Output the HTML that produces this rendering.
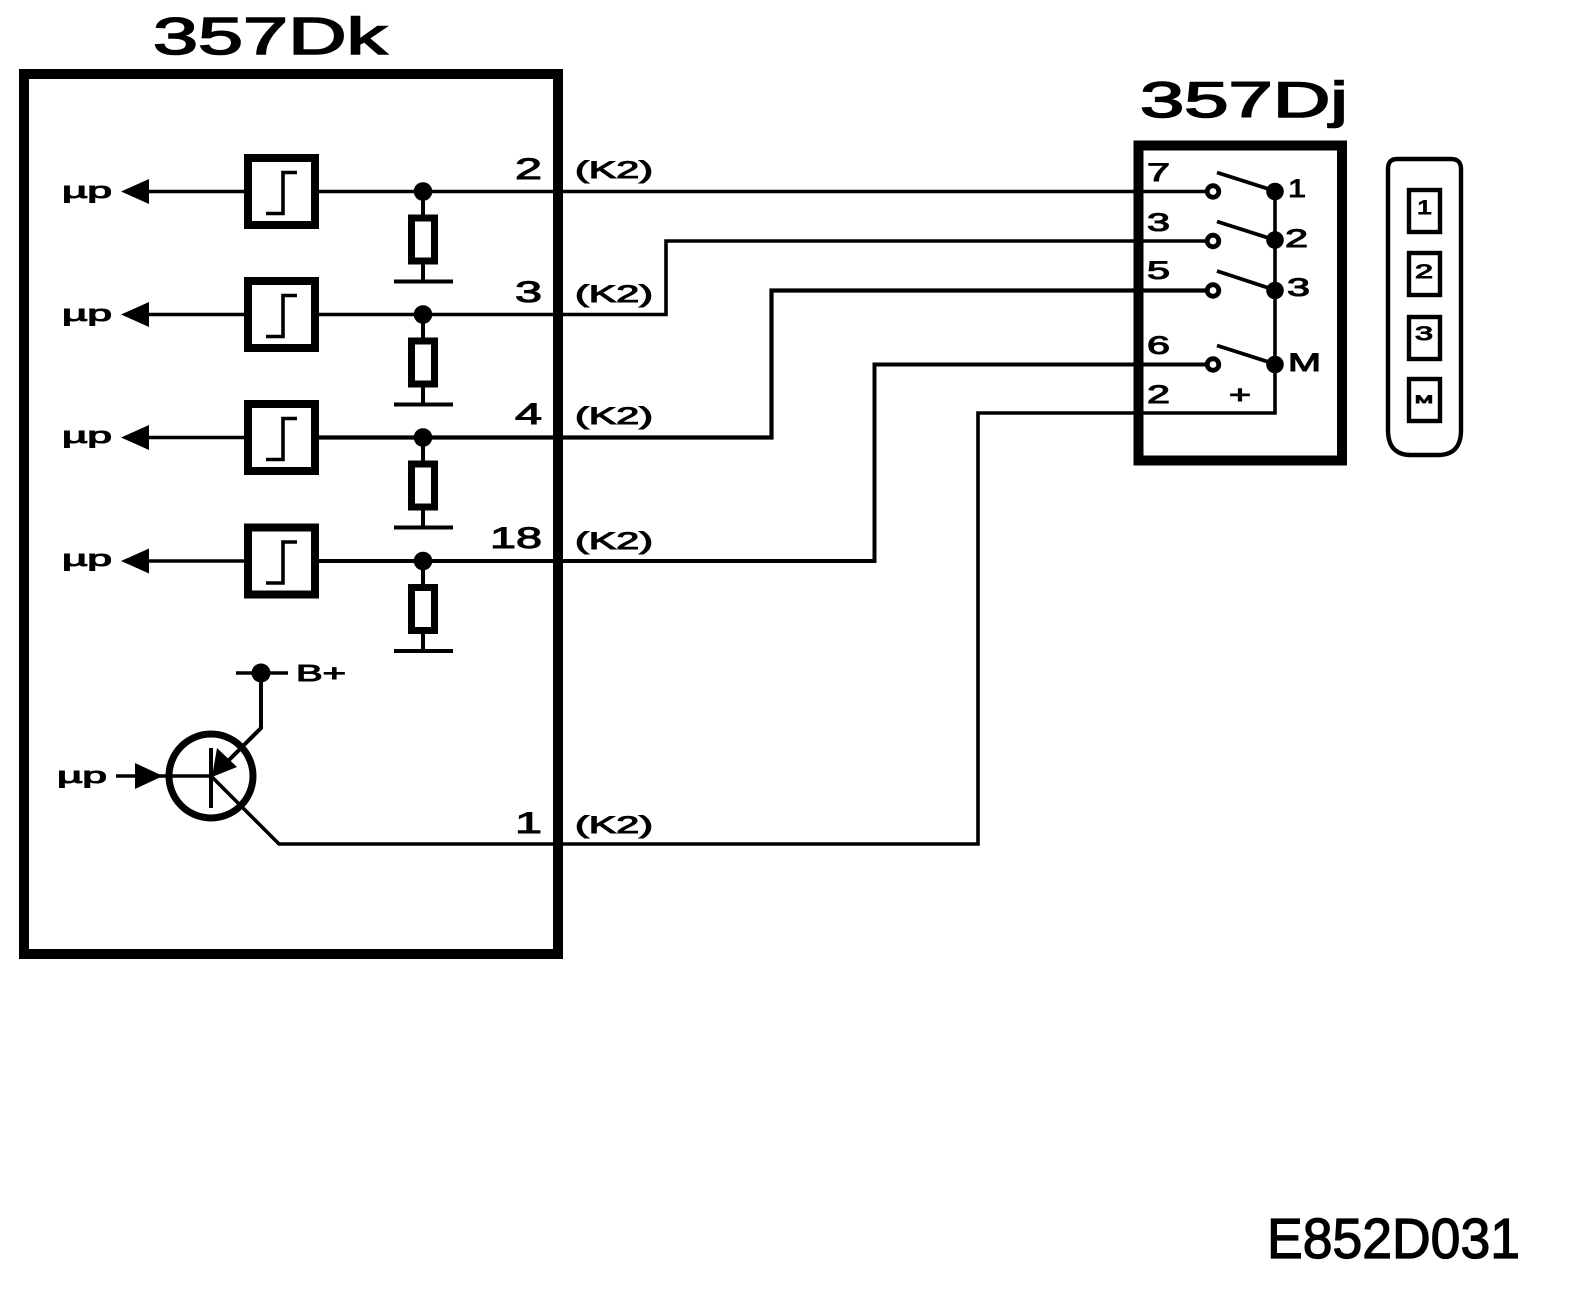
<!DOCTYPE html>
<html><head><meta charset="utf-8"><style>
html,body{margin:0;padding:0;background:#fff}
svg{display:block}
text{font-family:"Liberation Sans",sans-serif;fill:#000;stroke:#000;stroke-width:1}
</style></head><body>
<svg width="1584" height="1294" viewBox="0 0 1584 1294" xmlns="http://www.w3.org/2000/svg">
<rect width="1584" height="1294" fill="#fff"/>
<defs>
<g id="row">
<line x1="148" y1="0" x2="244" y2="0" stroke="#000" stroke-width="3.5"/>
<polygon points="121,0 149,-12.5 149,12.5" fill="#000"/>
<rect x="248" y="-33.5" width="67" height="67" fill="#fff" stroke="#000" stroke-width="8"/>
<polyline points="266,22 283,22 283,-19 297,-19" fill="none" stroke="#000" stroke-width="3.6"/>
<line x1="423" y1="0" x2="423" y2="90" stroke="#000" stroke-width="4"/>
<rect x="411.5" y="26.5" width="23" height="43" fill="#fff" stroke="#000" stroke-width="7"/>
<line x1="394" y1="90" x2="453" y2="90" stroke="#000" stroke-width="4"/>
<circle cx="423" cy="0" r="9.3" fill="#000"/>
</g>
</defs>

<text x="153" y="54" font-size="52" textLength="234" lengthAdjust="spacingAndGlyphs" style="stroke-width:1.6">357Dk</text>
<text x="1140" y="117" font-size="50" textLength="208" lengthAdjust="spacingAndGlyphs" style="stroke-width:1.6">357Dj</text>

<rect x="24" y="74" width="534" height="880" fill="none" stroke="#000" stroke-width="10"/>
<rect x="1138.5" y="145.5" width="203.5" height="315" fill="none" stroke="#000" stroke-width="10"/>

<g fill="none" stroke="#000" stroke-width="3.6">
<polyline points="315,191.5 1213,191.5"/>
<polyline points="315,314.5 666,314.5 666,241 1213,241"/>
<polyline points="315,437.5 771.5,437.5 771.5,290.5 1213,290.5" stroke-width="4.2"/>
<polyline points="315,561 874.5,561 874.5,364.5 1213,364.5" stroke-width="4"/>
<polyline points="211,776 279,844 978,844 978,413 1275,413 1275,191"/>
</g>

<use href="#row" y="191.5"/>
<use href="#row" y="314.5"/>
<use href="#row" y="437.5"/>
<use href="#row" y="561"/>

<g font-size="22">
<text x="62" y="198" textLength="50" lengthAdjust="spacingAndGlyphs">µp</text>
<text x="62" y="321" textLength="50" lengthAdjust="spacingAndGlyphs">µp</text>
<text x="62" y="443" textLength="50" lengthAdjust="spacingAndGlyphs">µp</text>
<text x="62" y="566" textLength="50" lengthAdjust="spacingAndGlyphs">µp</text>
<text x="57" y="783" textLength="50" lengthAdjust="spacingAndGlyphs">µp</text>
</g>

<g font-size="30">
<text x="515" y="179" textLength="27" lengthAdjust="spacingAndGlyphs">2</text>
<text x="515" y="302" textLength="27" lengthAdjust="spacingAndGlyphs">3</text>
<text x="515" y="424" textLength="27" lengthAdjust="spacingAndGlyphs">4</text>
<text x="490" y="548" textLength="52" lengthAdjust="spacingAndGlyphs">18</text>
<text x="515" y="833" textLength="27" lengthAdjust="spacingAndGlyphs">1</text>
</g>
<g font-size="24">
<text x="575" y="178" textLength="78" lengthAdjust="spacingAndGlyphs">(K2)</text>
<text x="575" y="302" textLength="78" lengthAdjust="spacingAndGlyphs">(K2)</text>
<text x="575" y="424" textLength="78" lengthAdjust="spacingAndGlyphs">(K2)</text>
<text x="575" y="549" textLength="78" lengthAdjust="spacingAndGlyphs">(K2)</text>
<text x="575" y="833" textLength="78" lengthAdjust="spacingAndGlyphs">(K2)</text>
</g>

<!-- transistor -->
<circle cx="211" cy="776" r="42" fill="none" stroke="#000" stroke-width="7"/>
<line x1="116" y1="776" x2="211" y2="776" stroke="#000" stroke-width="3.6"/>
<polygon points="163,776 135,763 135,789" fill="#000"/>
<line x1="211" y1="748" x2="211" y2="808" stroke="#000" stroke-width="4"/>
<polyline points="236,673 288,673" fill="none" stroke="#000" stroke-width="3.6"/>
<polyline points="261,673 261,728 225,764" fill="none" stroke="#000" stroke-width="4"/>
<polygon points="212,777 217,748 237,767" fill="#000"/>
<circle cx="261" cy="673" r="9.5" fill="#000"/>
<text x="296" y="681" font-size="23" textLength="50" lengthAdjust="spacingAndGlyphs">B+</text>

<!-- switches -->
<g stroke="#000" stroke-width="3.8">
<line x1="1217" y1="172.5" x2="1275" y2="191"/>
<line x1="1217" y1="221.5" x2="1275" y2="240"/>
<line x1="1217" y1="271" x2="1275" y2="290"/>
<line x1="1217" y1="345.5" x2="1275" y2="364"/>
</g>
<g fill="#fff" stroke="#000" stroke-width="4.8">
<circle cx="1213" cy="191.5" r="5.8"/>
<circle cx="1213" cy="241" r="5.8"/>
<circle cx="1213" cy="290.5" r="5.8"/>
<circle cx="1213" cy="364.5" r="5.8"/>
</g>
<g fill="#000">
<circle cx="1275" cy="191.5" r="8.8"/>
<circle cx="1275" cy="240" r="8.8"/>
<circle cx="1275" cy="290.5" r="8.8"/>
<circle cx="1275" cy="364.5" r="8.8"/>
</g>
<g font-size="25">
<text x="1147" y="181" textLength="23" lengthAdjust="spacingAndGlyphs">7</text>
<text x="1147" y="231" textLength="23" lengthAdjust="spacingAndGlyphs">3</text>
<text x="1147" y="279" textLength="23" lengthAdjust="spacingAndGlyphs">5</text>
<text x="1147" y="354" textLength="23" lengthAdjust="spacingAndGlyphs">6</text>
<text x="1147" y="403" textLength="23" lengthAdjust="spacingAndGlyphs">2</text>
<text x="1288" y="197" textLength="18" lengthAdjust="spacingAndGlyphs">1</text>
<text x="1285" y="247" textLength="23" lengthAdjust="spacingAndGlyphs">2</text>
<text x="1287" y="296" textLength="23" lengthAdjust="spacingAndGlyphs">3</text>
<text x="1288" y="371" textLength="33" lengthAdjust="spacingAndGlyphs">M</text>
<text x="1229" y="403" textLength="22" lengthAdjust="spacingAndGlyphs">+</text>
</g>

<!-- connector -->
<path d="M1397,159 H1451 Q1461,159 1461,169 V430 Q1461,455 1438,455 H1411 Q1388,455 1388,430 V169 Q1388,159 1397,159 Z" fill="none" stroke="#000" stroke-width="4.4"/>
<g fill="none" stroke="#000" stroke-width="4.4">
<rect x="1409" y="190" width="31" height="42"/>
<rect x="1409" y="253" width="31" height="42"/>
<rect x="1409" y="317" width="31" height="42"/>
<rect x="1409" y="379" width="31" height="42"/>
</g>
<g font-size="19">
<text x="1417" y="214" textLength="15" lengthAdjust="spacingAndGlyphs">1</text>
<text x="1415" y="278" textLength="18" lengthAdjust="spacingAndGlyphs">2</text>
<text x="1415" y="340" textLength="18" lengthAdjust="spacingAndGlyphs">3</text>
</g>
<text x="1415" y="403" font-size="11" textLength="18" lengthAdjust="spacingAndGlyphs">M</text>

<text x="1267" y="1258" font-size="57" textLength="253" lengthAdjust="spacingAndGlyphs" style="stroke-width:1.3">E852D031</text>
</svg>
</body></html>
